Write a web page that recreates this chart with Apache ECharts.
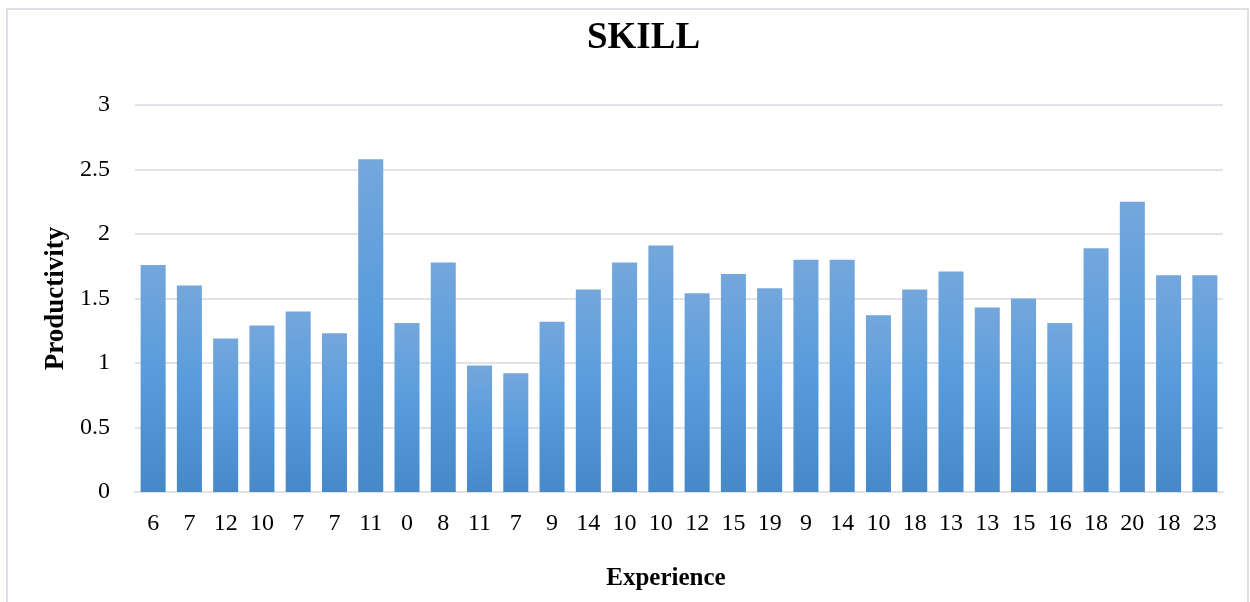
<!DOCTYPE html>
<html>
<head>
<meta charset="utf-8">
<script src="https://cdn.jsdelivr.net/npm/echarts@6/dist/echarts.min.js"></script>
<style>
  html, body { margin: 0; padding: 0; background: #ffffff; }
  #chart { width: 1250px; height: 602px; }
</style>
</head>
<body>
<div id="chart"></div>
<script>
// Years of experience for each worker (x-axis categories)
const experience = ['6','7','12','10','7','7','11','0','8','11','7','9','14','10','10','12','15','19','9','14','10','18','13','13','15','16','18','20','18','23'];
// Productivity per worker
const productivity = [1.76,1.60,1.19,1.29,1.40,1.23,2.58,1.31,1.78,0.98,0.92,1.32,1.57,1.78,1.91,1.54,1.69,1.58,1.80,1.80,1.37,1.57,1.71,1.43,1.50,1.31,1.89,2.25,1.68,1.68];
// Value axis ticks
const yTicks = { min: 0, max: 3, step: 0.5 };

const serif = '"Liberation Serif", "Times New Roman", serif';
const chart = echarts.init(document.getElementById('chart'));

chart.setOption({
  backgroundColor: '#ffffff',
  animation: false,
  graphic: [{
    type: 'rect',
    shape: { x: 7, y: 9, width: 1241, height: 600 },
    style: { fill: 'none', stroke: '#dde1e6', lineWidth: 2 },
    silent: true,
    z: -1
  }],
  title: {
    text: 'SKILL',
    left: 582,
    top: 15,
    textStyle: { fontFamily: serif, fontWeight: 'bold', fontSize: 37, color: '#000' }
  },
  grid: { left: 135, right: 27, top: 105, bottom: 110 },
  xAxis: {
    type: 'category',
    data: experience,
    name: 'Experience',
    nameLocation: 'middle',
    nameGap: 74,
    nameTextStyle: { fontFamily: serif, fontWeight: 'bold', fontSize: 25, color: '#000', padding: [0, 26, 0, 0] },
    axisLine: { show: true, lineStyle: { color: '#dfe2e7', width: 2 } },
    axisTick: { show: false },
    axisLabel: { fontFamily: serif, fontSize: 24, color: '#000', margin: 20, interval: 0 }
  },
  yAxis: {
    type: 'value',
    min: yTicks.min,
    max: yTicks.max,
    interval: yTicks.step,
    name: 'Productivity',
    nameLocation: 'middle',
    nameGap: 64,
    nameTextStyle: { fontFamily: serif, fontWeight: 'bold', fontSize: 27, color: '#000' },
    axisLine: { show: false },
    axisTick: { show: false },
    axisLabel: { fontFamily: serif, fontSize: 24, color: '#000', margin: 25 },
    splitLine: { lineStyle: { color: '#e0e3e8', width: 2 } }
  },
  series: [{
    type: 'bar',
    data: productivity,
    barCategoryGap: '31%',
    itemStyle: {
      color: new echarts.graphic.LinearGradient(0, 0, 0, 1, [
        { offset: 0, color: '#74a7dc' },
        { offset: 0.5, color: '#579bdc' },
        { offset: 1, color: '#4689c8' }
      ])
    }
  }]
});
</script>
</body>
</html>
